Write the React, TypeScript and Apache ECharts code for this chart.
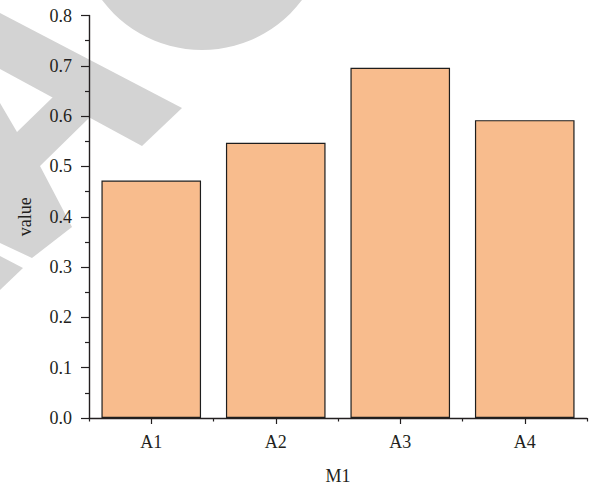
import React, { useEffect, useRef } from "react";
import * as echarts from "echarts";

const categories = ["A1", "A2", "A3", "A4"];
const values = [0.472, 0.547, 0.696, 0.592];
const yTicks = { min: 0, max: 0.8, interval: 0.1 };
const xName = "M1";
const yName = "value";

const GRAY = "#d3d3d3";
const INK = "#231f20";
const FONT = "Liberation Serif";

export default function App() {
  const ref = useRef<HTMLDivElement>(null);
  useEffect(() => {
    if (!ref.current) return;
    const chart = echarts.init(ref.current, null, { renderer: "svg" });
    chart.setOption({
      animation: false,
      backgroundColor: "#ffffff",
      textStyle: { fontFamily: FONT },
      graphic: {
        elements: [
          { type: "circle", z: -100, silent: true, shape: { cx: 202, cy: -75, r: 125 }, style: { fill: GRAY } },
          {
            type: "polygon", z: -100, silent: true,
            shape: { points: [[0, 13], [182, 108], [142, 146], [0, 69]] },
            style: { fill: GRAY },
          },
          {
            type: "polygon", z: -100, silent: true,
            shape: { points: [[0, 103], [17, 132], [53, 97], [90, 117], [40, 166], [72, 227], [32, 258], [0, 243]] },
            style: { fill: GRAY },
          },
          {
            type: "polygon", z: -100, silent: true,
            shape: { points: [[0, 256], [23, 268], [0, 290]] },
            style: { fill: GRAY },
          },
        ],
      },
      grid: { left: 89, right: 2, top: 15.5, bottom: 67, containLabel: false, outerBoundsMode: "none" },
      xAxis: [
        {
          type: "category",
          data: categories,
          name: xName,
          nameLocation: "middle",
          nameGap: 49,
          nameTextStyle: { fontFamily: FONT, fontSize: 18, color: INK },
          axisLine: { show: true, lineStyle: { color: INK, width: 1.4 } },
          axisTick: { show: true, alignWithLabel: true, length: 6, lineStyle: { color: INK, width: 1.2 } },
          axisLabel: { fontFamily: FONT, fontSize: 18, color: INK, margin: 15 },
          splitLine: { show: false },
        },
        {
          type: "category",
          data: categories,
          position: "bottom",
          axisLine: { show: false },
          axisTick: { show: true, alignWithLabel: false, length: 3.5, lineStyle: { color: INK, width: 1.2 } },
          axisLabel: { show: false },
          splitLine: { show: false },
        },
      ],
      yAxis: {
        type: "value",
        min: yTicks.min,
        max: yTicks.max,
        interval: yTicks.interval,
        name: yName,
        nameLocation: "middle",
        nameGap: 55,
        nameTextStyle: { fontFamily: FONT, fontSize: 18, color: INK },
        axisLine: { show: true, lineStyle: { color: INK, width: 1.4 } },
        axisTick: { show: true, inside: false, length: 8, lineStyle: { color: INK, width: 1.2 } },
        minorTick: { show: true, splitNumber: 2, length: 4, lineStyle: { color: INK, width: 1.2 } },
        axisLabel: {
          fontFamily: FONT, fontSize: 18, color: INK, margin: 17,
          formatter: (v: number) => v.toFixed(1),
        },
        splitLine: { show: false },
      },
      series: [
        {
          type: "bar",
          xAxisIndex: 0,
          data: values,
          barCategoryGap: "20%",
          itemStyle: { color: "#f8bc8d", borderColor: "#1e1e1e", borderWidth: 1.2 },
        },
      ],
    });
    return () => chart.dispose();
  }, []);
  return <div ref={ref} style={{ width: 589, height: 485, position: "absolute", left: 0, top: 0 }} />;
}
